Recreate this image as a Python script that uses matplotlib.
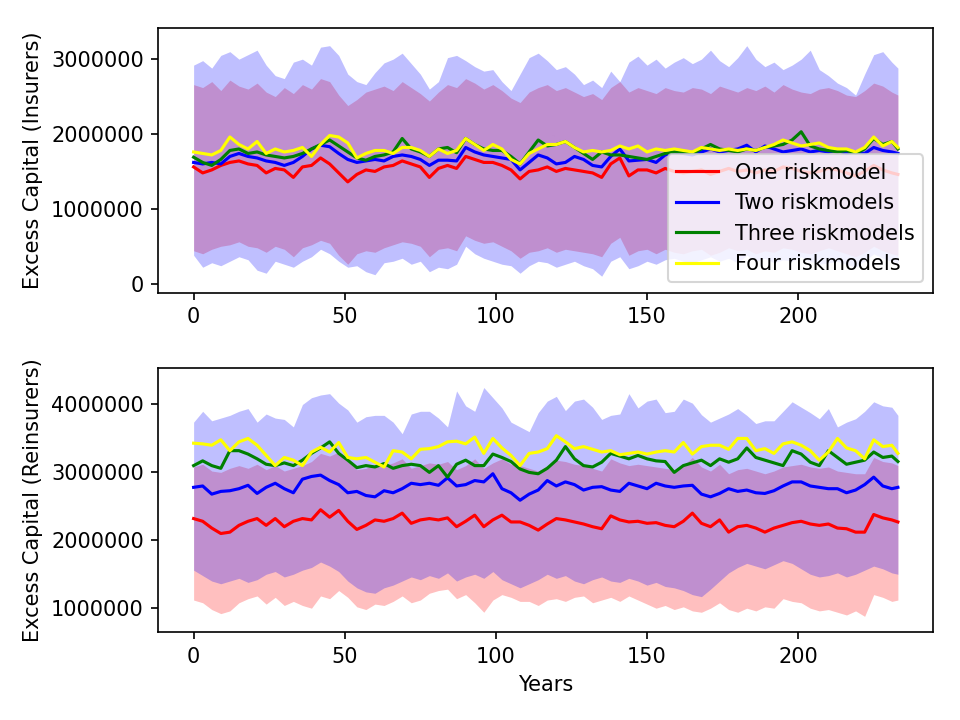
import numpy as np
import matplotlib
matplotlib.use("Agg")
import matplotlib.pyplot as plt

# time axis: every third year, plus the last one
years = list(range(0, 232, 3)) + [233]

labels = ["One riskmodel", "Two riskmodels", "Three riskmodels", "Four riskmodels"]
colors = ["red", "blue", "green", "yellow"]

# insurers, millions
ins_one = [1.56, 1.48, 1.52, 1.58, 1.62, 1.64, 1.60, 1.58, 1.48, 1.54, 1.52, 1.42, 1.56,
           1.58, 1.68, 1.60, 1.48, 1.36, 1.46, 1.52, 1.50, 1.56, 1.58, 1.64, 1.60, 1.56,
           1.42, 1.54, 1.58, 1.54, 1.70, 1.66, 1.62, 1.62, 1.58, 1.52, 1.40, 1.50, 1.52,
           1.56, 1.50, 1.54, 1.52, 1.50, 1.48, 1.42, 1.60, 1.68, 1.44, 1.52, 1.52, 1.48,
           1.54, 1.50, 1.48, 1.50, 1.52, 1.46, 1.50, 1.54, 1.50, 1.52, 1.48, 1.52, 1.50,
           1.56, 1.54, 1.50, 1.48, 1.50, 1.54, 1.52, 1.48, 1.44, 1.50, 1.58, 1.52, 1.48,
           1.46]
ins_two = [1.62, 1.60, 1.62, 1.60, 1.70, 1.74, 1.70, 1.68, 1.64, 1.62, 1.58, 1.62, 1.70,
           1.80, 1.85, 1.83, 1.74, 1.66, 1.62, 1.64, 1.66, 1.64, 1.70, 1.72, 1.70, 1.66,
           1.58, 1.65, 1.65, 1.64, 1.82, 1.76, 1.72, 1.70, 1.68, 1.66, 1.52, 1.62, 1.72,
           1.68, 1.60, 1.62, 1.70, 1.66, 1.58, 1.56, 1.70, 1.80, 1.64, 1.65, 1.66, 1.62,
           1.72, 1.76, 1.74, 1.72, 1.76, 1.80, 1.76, 1.78, 1.80, 1.85, 1.76, 1.84, 1.80,
           1.76, 1.78, 1.80, 1.76, 1.78, 1.76, 1.78, 1.74, 1.76, 1.74, 1.82, 1.78, 1.76,
           1.74]
ins_three = [1.69, 1.62, 1.58, 1.66, 1.78, 1.80, 1.74, 1.76, 1.72, 1.70, 1.68, 1.70, 1.74,
             1.80, 1.86, 1.92, 1.84, 1.76, 1.68, 1.65, 1.70, 1.72, 1.76, 1.94, 1.80, 1.76,
             1.70, 1.80, 1.82, 1.75, 1.94, 1.86, 1.80, 1.78, 1.78, 1.70, 1.60, 1.76, 1.92,
             1.84, 1.86, 1.90, 1.82, 1.74, 1.66, 1.76, 1.72, 1.72, 1.70, 1.68, 1.66, 1.70,
             1.74, 1.76, 1.76, 1.74, 1.80, 1.86, 1.80, 1.78, 1.76, 1.80, 1.78, 1.82, 1.84,
             1.86, 1.92, 2.03, 1.84, 1.80, 1.78, 1.76, 1.78, 1.74, 1.80, 1.94, 1.86, 1.90,
             1.80]
ins_four = [1.76, 1.74, 1.72, 1.78, 1.96, 1.86, 1.80, 1.90, 1.74, 1.80, 1.76, 1.78, 1.82,
            1.70, 1.86, 1.98, 1.96, 1.88, 1.68, 1.74, 1.78, 1.78, 1.74, 1.82, 1.82, 1.78,
            1.70, 1.80, 1.74, 1.78, 1.94, 1.86, 1.78, 1.86, 1.80, 1.66, 1.60, 1.74, 1.80,
            1.86, 1.86, 1.90, 1.82, 1.76, 1.78, 1.76, 1.78, 1.84, 1.80, 1.84, 1.76, 1.80,
            1.78, 1.80, 1.78, 1.76, 1.82, 1.80, 1.78, 1.80, 1.78, 1.80, 1.78, 1.82, 1.86,
            1.92, 1.88, 1.84, 1.86, 1.88, 1.82, 1.80, 1.80, 1.76, 1.82, 1.96, 1.84, 1.90,
            1.82]
ins_one_lo = [0.44, 0.40, 0.46, 0.50, 0.52, 0.56, 0.50, 0.48, 0.42, 0.50, 0.46, 0.36, 0.48,
              0.52, 0.58, 0.54, 0.38, 0.26, 0.40, 0.44, 0.42, 0.48, 0.52, 0.56, 0.54, 0.50,
              0.36, 0.46, 0.48, 0.44, 0.64, 0.58, 0.54, 0.56, 0.50, 0.44, 0.34, 0.42, 0.44,
              0.48, 0.42, 0.46, 0.44, 0.42, 0.40, 0.36, 0.54, 0.62, 0.38, 0.44, 0.46, 0.40,
              0.46, 0.42, 0.40, 0.44, 0.46, 0.38, 0.42, 0.48, 0.44, 0.46, 0.40, 0.44, 0.42,
              0.48, 0.46, 0.42, 0.40, 0.44, 0.48, 0.44, 0.40, 0.36, 0.42, 0.50, 0.44, 0.40,
              0.38]
ins_one_hi = [2.66, 2.62, 2.70, 2.58, 2.72, 2.64, 2.60, 2.68, 2.56, 2.50, 2.62, 2.54, 2.66,
              2.60, 2.74, 2.70, 2.52, 2.38, 2.46, 2.56, 2.60, 2.64, 2.58, 2.70, 2.62, 2.54,
              2.44, 2.56, 2.66, 2.62, 2.74, 2.68, 2.60, 2.66, 2.58, 2.48, 2.42, 2.56, 2.62,
              2.66, 2.58, 2.62, 2.56, 2.50, 2.54, 2.46, 2.62, 2.70, 2.56, 2.62, 2.58, 2.54,
              2.62, 2.58, 2.56, 2.62, 2.60, 2.54, 2.64, 2.60, 2.56, 2.62, 2.58, 2.64, 2.56,
              2.66, 2.60, 2.56, 2.54, 2.60, 2.62, 2.58, 2.52, 2.50, 2.58, 2.68, 2.64, 2.56,
              2.52]
ins_two_lo = [0.38, 0.22, 0.28, 0.24, 0.30, 0.36, 0.32, 0.18, 0.14, 0.30, 0.26, 0.22, 0.30,
              0.36, 0.46, 0.40, 0.30, 0.22, 0.24, 0.16, 0.12, 0.28, 0.30, 0.34, 0.26, 0.30,
              0.16, 0.22, 0.20, 0.26, 0.50, 0.40, 0.34, 0.30, 0.26, 0.24, 0.14, 0.24, 0.30,
              0.28, 0.22, 0.26, 0.30, 0.24, 0.20, 0.10, 0.30, 0.36, 0.20, 0.24, 0.30, 0.26,
              0.32, 0.34, 0.30, 0.28, 0.32, 0.36, 0.30, 0.34, 0.28, 0.38, 0.30, 0.34, 0.28,
              0.32, 0.30, 0.36, 0.30, 0.26, 0.28, 0.30, 0.26, 0.22, 0.30, 0.40, 0.34, 0.30,
              0.28]
ins_two_hi = [2.92, 2.98, 2.88, 3.05, 3.10, 3.00, 3.06, 3.12, 2.92, 2.78, 2.74, 2.96, 3.00,
              2.92, 3.16, 3.18, 3.05, 2.80, 2.70, 2.66, 2.82, 2.95, 3.00, 3.08, 2.94, 2.80,
              2.60, 2.70, 3.02, 3.05, 2.98, 2.90, 2.84, 2.86, 2.70, 2.58, 2.80, 3.02, 3.08,
              2.98, 2.86, 2.90, 2.80, 2.66, 2.72, 2.62, 2.84, 2.70, 2.96, 3.04, 2.92, 3.00,
              2.88, 2.96, 3.02, 2.94, 3.00, 3.12, 2.98, 2.90, 3.02, 3.18, 3.00, 2.90, 2.96,
              2.86, 2.92, 3.00, 3.12, 2.86, 2.78, 2.68, 2.62, 2.52, 2.80, 3.06, 3.10, 2.96,
              2.88]

# reinsurers, millions
rei_one = [2.32, 2.28, 2.18, 2.10, 2.12, 2.22, 2.28, 2.32, 2.22, 2.32, 2.20, 2.28, 2.32,
           2.30, 2.45, 2.34, 2.44, 2.28, 2.16, 2.22, 2.30, 2.28, 2.32, 2.40, 2.25, 2.30,
           2.32, 2.30, 2.33, 2.20, 2.28, 2.37, 2.20, 2.30, 2.37, 2.27, 2.27, 2.22, 2.15,
           2.24, 2.32, 2.30, 2.27, 2.24, 2.20, 2.17, 2.36, 2.30, 2.27, 2.28, 2.25, 2.26,
           2.22, 2.20, 2.28, 2.40, 2.25, 2.20, 2.30, 2.12, 2.20, 2.22, 2.18, 2.12, 2.18,
           2.22, 2.26, 2.28, 2.24, 2.22, 2.24, 2.18, 2.17, 2.12, 2.12, 2.38, 2.33, 2.30,
           2.27]
rei_two = [2.78, 2.80, 2.68, 2.72, 2.73, 2.76, 2.81, 2.69, 2.78, 2.84, 2.76, 2.70, 2.90,
           2.94, 2.96, 2.88, 2.82, 2.70, 2.72, 2.66, 2.64, 2.73, 2.70, 2.76, 2.84, 2.82,
           2.84, 2.81, 2.92, 2.80, 2.82, 2.88, 2.86, 2.98, 2.76, 2.70, 2.59, 2.68, 2.74,
           2.88, 2.80, 2.86, 2.82, 2.74, 2.78, 2.79, 2.74, 2.72, 2.84, 2.80, 2.76, 2.84,
           2.80, 2.78, 2.80, 2.81, 2.68, 2.64, 2.69, 2.76, 2.72, 2.74, 2.70, 2.69, 2.73,
           2.80, 2.86, 2.86, 2.80, 2.78, 2.76, 2.76, 2.70, 2.74, 2.82, 2.93, 2.80, 2.76,
           2.78]
rei_three = [3.10, 3.17, 3.10, 3.06, 3.32, 3.32, 3.27, 3.20, 3.12, 3.10, 3.14, 3.10, 3.18,
             3.28, 3.36, 3.45, 3.28, 3.18, 3.07, 3.10, 3.08, 3.13, 3.06, 3.10, 3.12, 3.10,
             3.00, 3.10, 2.93, 3.12, 3.18, 3.10, 3.10, 3.27, 3.22, 3.16, 3.05, 3.00, 2.98,
             3.06, 3.18, 3.38, 3.20, 3.10, 3.08, 3.15, 3.28, 3.24, 3.20, 3.25, 3.20, 3.17,
             3.16, 3.00, 3.10, 3.14, 3.18, 3.10, 3.20, 3.15, 3.20, 3.36, 3.22, 3.18, 3.14,
             3.10, 3.32, 3.27, 3.15, 3.10, 3.32, 3.22, 3.12, 3.15, 3.18, 3.30, 3.22, 3.24,
             3.16]
rei_four = [3.43, 3.42, 3.40, 3.48, 3.32, 3.45, 3.50, 3.40, 3.25, 3.10, 3.22, 3.18, 3.10,
            3.30, 3.37, 3.30, 3.44, 3.22, 3.20, 3.22, 3.15, 3.08, 3.32, 3.30, 3.20, 3.34,
            3.35, 3.38, 3.45, 3.46, 3.42, 3.52, 3.28, 3.50, 3.36, 3.25, 3.10, 3.28, 3.30,
            3.35, 3.54, 3.45, 3.35, 3.38, 3.34, 3.30, 3.32, 3.26, 3.28, 3.30, 3.27, 3.30,
            3.32, 3.30, 3.44, 3.27, 3.38, 3.40, 3.40, 3.34, 3.50, 3.50, 3.32, 3.35, 3.28,
            3.42, 3.45, 3.40, 3.32, 3.18, 3.30, 3.50, 3.36, 3.32, 3.20, 3.48, 3.38, 3.40,
            3.28]
rei_one_lo = [1.12, 1.08, 0.98, 0.92, 0.96, 1.08, 1.14, 1.18, 1.06, 1.16, 1.04, 1.10, 1.04,
              1.00, 1.18, 1.14, 1.26, 1.16, 1.02, 0.98, 1.06, 1.04, 1.10, 1.18, 1.08, 1.12,
              1.22, 1.26, 1.28, 1.14, 1.20, 1.08, 0.94, 1.12, 1.20, 1.16, 1.10, 1.10, 1.04,
              1.12, 1.14, 1.10, 1.16, 1.18, 1.08, 1.12, 1.16, 1.10, 1.18, 1.12, 1.06, 1.00,
              1.04, 0.98, 1.02, 0.96, 0.94, 1.00, 1.08, 0.98, 0.94, 1.00, 0.96, 1.02, 1.00,
              1.14, 1.10, 1.08, 1.00, 0.96, 0.98, 0.94, 0.90, 0.96, 0.88, 1.20, 1.16, 1.10,
              1.12]
rei_one_hi = [3.08, 3.12, 3.02, 3.00, 3.06, 3.10, 3.06, 3.12, 3.04, 3.10, 3.02, 3.06, 3.10,
              3.16, 3.28, 3.24, 3.30, 3.16, 3.04, 3.06, 3.12, 3.10, 3.14, 3.20, 3.06, 3.10,
              3.14, 3.12, 3.16, 3.04, 3.10, 3.20, 3.06, 3.14, 3.20, 3.12, 3.10, 3.06, 3.02,
              3.10, 3.18, 3.16, 3.12, 3.10, 3.06, 3.02, 3.20, 3.14, 3.10, 3.12, 3.10, 3.08,
              3.06, 3.04, 3.10, 3.22, 3.08, 3.02, 3.12, 2.98, 3.04, 3.06, 3.02, 2.98, 3.02,
              3.08, 3.10, 3.12, 3.08, 3.06, 3.08, 3.02, 3.00, 2.98, 2.98, 3.22, 3.16, 3.14,
              3.10]
rei_two_lo = [1.56, 1.48, 1.40, 1.36, 1.40, 1.44, 1.38, 1.42, 1.50, 1.54, 1.46, 1.50, 1.56,
              1.60, 1.68, 1.62, 1.54, 1.40, 1.30, 1.24, 1.22, 1.30, 1.34, 1.40, 1.46, 1.42,
              1.48, 1.44, 1.52, 1.40, 1.46, 1.50, 1.44, 1.54, 1.42, 1.36, 1.30, 1.36, 1.42,
              1.50, 1.44, 1.48, 1.40, 1.36, 1.42, 1.46, 1.40, 1.38, 1.44, 1.40, 1.34, 1.38,
              1.32, 1.30, 1.26, 1.20, 1.17, 1.28, 1.40, 1.52, 1.60, 1.66, 1.62, 1.58, 1.64,
              1.70, 1.66, 1.58, 1.50, 1.46, 1.48, 1.52, 1.46, 1.50, 1.56, 1.62, 1.58, 1.52,
              1.50]
rei_two_hi = [3.74, 3.90, 3.76, 3.80, 3.84, 3.90, 3.94, 3.74, 3.86, 3.80, 3.78, 3.67, 4.00,
              4.10, 4.14, 4.16, 4.02, 3.92, 3.74, 3.82, 3.84, 3.84, 3.74, 3.57, 3.86, 3.90,
              3.90, 3.80, 3.67, 4.20, 3.98, 3.90, 4.25, 4.10, 3.95, 3.74, 3.67, 3.60, 3.88,
              4.05, 4.12, 3.91, 4.05, 4.08, 3.96, 3.78, 3.84, 3.86, 4.16, 3.95, 4.05, 4.08,
              3.88, 3.90, 4.08, 4.02, 3.85, 3.74, 3.80, 3.86, 3.94, 3.84, 3.72, 3.76, 3.76,
              3.90, 4.04, 3.96, 3.88, 3.79, 3.94, 3.67, 3.74, 3.79, 3.90, 4.04, 3.98, 3.96,
              3.84]


def m(v):
    return np.array(v) * 1e6


fig, (ax1, ax2) = plt.subplots(2, 1, figsize=(6.4, 4.8), dpi=150)
fig.subplots_adjust(left=0.165, right=0.972, top=0.961, bottom=0.122, hspace=0.283)

panels = [
    (ax1, [ins_one, ins_two, ins_three, ins_four],
     [(ins_one_lo, ins_one_hi), (ins_two_lo, ins_two_hi)], "Excess Capital (Insurers)", (-0.12e6, 3.415e6)),
    (ax2, [rei_one, rei_two, rei_three, rei_four],
     [(rei_one_lo, rei_one_hi), (rei_two_lo, rei_two_hi)], "Excess Capital (Reinsurers)", (0.647e6, 4.544e6)),
]

for ax, lines, bands, ylabel, ylim in panels:
    # spread bands for the first two models
    for (lo, hi), c in zip(bands, colors[:2]):
        ax.fill_between(years, m(lo), m(hi), color=c, alpha=0.25, linewidth=0)
    for vals, c, lab in zip(lines, colors, labels):
        ax.plot(years, m(vals), color=c, label=lab, linewidth=1.5)
    ax.set_ylabel(ylabel)
    ax.set_xlim(-11.65, 244.65)
    ax.set_ylim(*ylim)
    ax.ticklabel_format(style="plain", axis="y", useOffset=False)

ax1.legend(loc="lower right")
ax2.set_xlabel("Years")

fig.savefig("out.png", dpi=150)
